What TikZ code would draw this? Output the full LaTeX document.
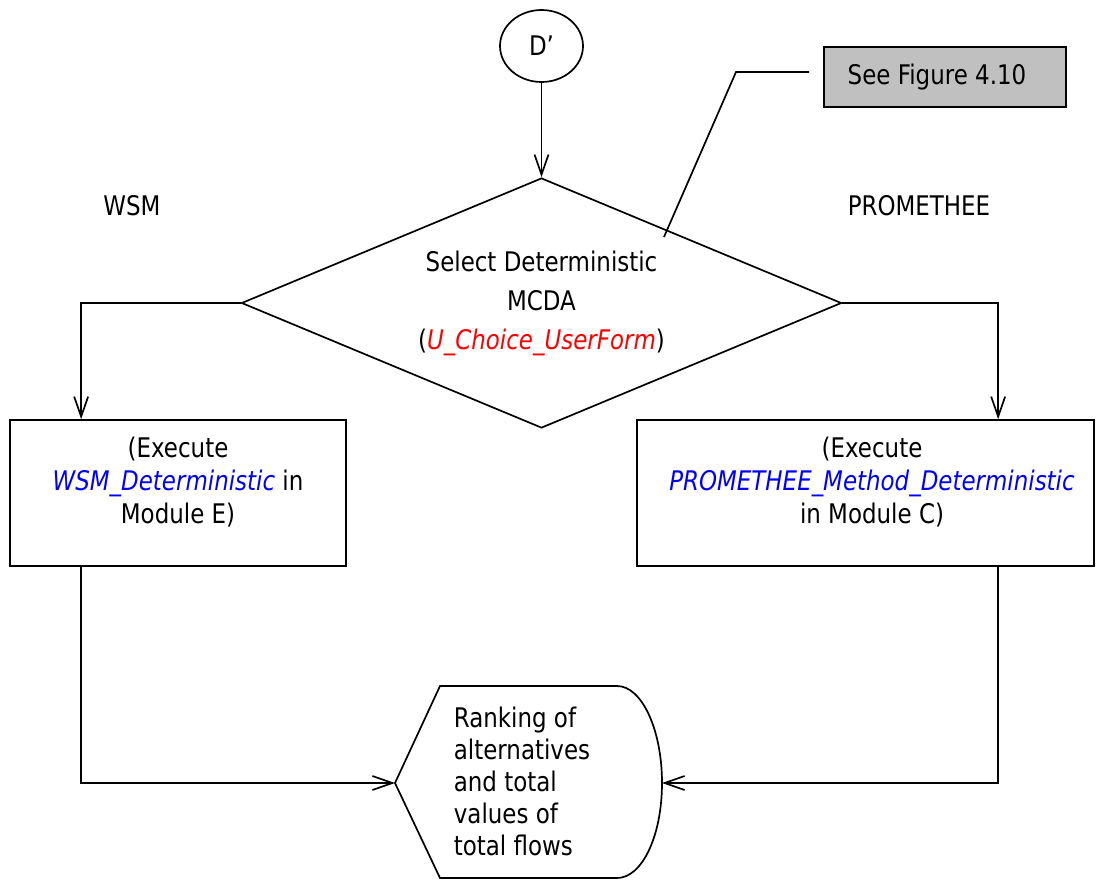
\documentclass[tikz,border=0pt]{standalone}
\usepackage{fontspec}
\setmainfont{DejaVu Sans}[FakeStretch=0.85]
\usetikzlibrary{shapes.geometric,arrows.meta,calc}
\definecolor{figgray}{RGB}{192,192,192}
\definecolor{callblue}{RGB}{0,0,255}
\definecolor{callred}{RGB}{255,0,0}
\begin{document}
\begin{tikzpicture}[x=1pt,y=-1pt,line width=1.7pt,
  txt/.style={font=\fontsize{27}{33}\selectfont,inner sep=0pt},
  flow/.style={-{Straight Barb[length=20pt,width=14pt]}},
  procbox/.style={draw,inner sep=0pt,minimum height=146pt}]
\useasboundingbox (0,0) rectangle (1096,879);

% connector circle and decision
\node[ellipse,draw,minimum width=83pt,minimum height=72pt,txt] (dp) at (541.5,46) {D’};
\node[diamond,draw,aspect=2.4,minimum width=600pt,minimum height=250pt,inner sep=0pt,
      align=center,font=\fontsize{27}{39}\selectfont] (sel) at (541.5,303)
  {Select Deterministic\\MCDA\\(\textcolor{callred}{\itshape U\_Choice\_UserForm})};

% branch labels
\node[txt] (lw) at (132,206) {WSM};
\node[txt] (lp) at (919,206) {PROMETHEE};

% annotation
\node[draw,fill=figgray,minimum width=242pt,minimum height=60pt,txt] (fig) at (945,77)
  {See Figure 4.10\hspace*{16pt}};
\coordinate (fs) at (809,72);
\coordinate (fk) at (736,72);
\coordinate (fe) at (664,237);
\draw (fs) -- (fk) -- (fe);

% process boxes
\node[procbox,minimum width=336pt] (wsm) at (178,493) {};
\node[txt,align=center] (wsmtxt) at (178,482)
  {(Execute\\\textcolor{callblue}{\itshape WSM\_Deterministic} in\\Module E)};
\node[procbox,minimum width=457pt] (prom) at (865.5,493) {};
\node[txt,align=center] (promtxt) at (872,482)
  {(Execute\\\textcolor{callblue}{\itshape PROMETHEE\_Method\_Deterministic}\\in Module C)};

% display output
\coordinate (outL) at (395,783);
\coordinate (outR) at (662,783);
\draw (440,686) -- (617,686)
  .. controls (642,686) and (662,730) .. (outR)
  .. controls (662,836) and (642,878) .. (617,878)
  -- (440,878) -- (outL) -- cycle;
\node[anchor=west,align=left,inner sep=0pt,font=\fontsize{27}{32}\selectfont] (out) at (453,781)
  {Ranking of\\alternatives\\and total\\values of\\total flows};

% flow lines
\draw[flow] (dp.south) -- (sel.north);
\draw[flow] (sel.west) -| ($(wsm.north west)+(72,0)$);
\draw[flow] (sel.east) -| ($(prom.north west)+(362,0)$);
\draw[flow] ($(wsm.south west)+(72,0)$) |- (outL);
\draw[flow] ($(prom.south west)+(362,0)$) |- (outR);
\end{tikzpicture}
\end{document}
